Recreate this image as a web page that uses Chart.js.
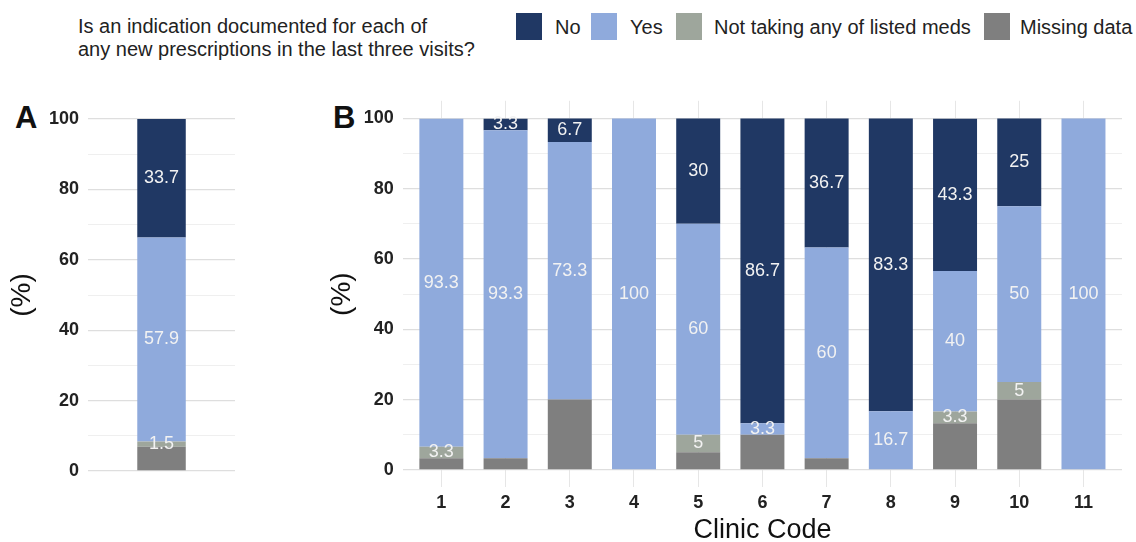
<!DOCTYPE html>
<html>
<head>
<meta charset="utf-8">
<script src="https://cdn.jsdelivr.net/npm/chart.js@4/dist/chart.umd.min.js"></script>
<style>
  body { margin: 0; background: #fff; font-family: "Liberation Sans", Arial, sans-serif; }
  #pagina { position: relative; width: 1136px; height: 542px; overflow: hidden; }
  .abs { position: absolute; }
  .titulo { left: 78px; top: 15px; font-size: 20px; line-height: 23px; color: #222; }
  .caixa { width: 26px; height: 27px; top: 13px; }
  .rotulo { top: 16px; font-size: 20px; line-height: 23px; color: #222; }
  .painel { font-size: 31px; font-weight: bold; color: #111; line-height: 1; }
</style>
</head>
<body>
<div id="pagina">
  <div class="abs titulo">Is an indication documented for each of<br>any new prescriptions in the last three visits?</div>

  <div class="abs caixa" style="left:516px;background:#203864"></div>
  <div class="abs rotulo" style="left:555px">No</div>
  <div class="abs caixa" style="left:591px;background:#8faadc"></div>
  <div class="abs rotulo" style="left:630px">Yes</div>
  <div class="abs caixa" style="left:676px;background:#9ea69c"></div>
  <div class="abs rotulo" style="left:714px">Not taking any of listed meds</div>
  <div class="abs caixa" style="left:984px;background:#7f7f7f"></div>
  <div class="abs rotulo" style="left:1020px">Missing data</div>

  <div class="abs painel" style="left:15px;top:102px">A</div>
  <div class="abs painel" style="left:333px;top:102px">B</div>

  <div class="abs" style="left:0;top:91px;width:245px;height:400px"><canvas id="grafico-a"></canvas></div>
  <div class="abs" style="left:300px;top:81px;width:836px;height:461px"><canvas id="grafico-b"></canvas></div>
</div>
<script>
// Panel A: all clinics pooled
const rotuloA = ['All'];
const naoA = [33.7];
const simA = [57.9];
const semMedA = [1.5];
const faltaA = [6.9];

// Panel B: by clinic
const clinicas = ['1', '2', '3', '4', '5', '6', '7', '8', '9', '10', '11'];
const naoB = [0, 3.3, 6.7, 0, 30, 86.7, 36.7, 83.3, 43.3, 25, 0];
const simB = [93.3, 93.3, 73.3, 100, 60, 3.3, 60, 16.7, 40, 50, 100];
const semMedB = [3.3, 0, 0, 0, 5, 0, 0, 0, 3.3, 5, 0];
const faltaB = [3.3, 3.3, 20, 0, 5, 10, 3.3, 0, 13.3, 20, 0];

const ticksY = [0, 10, 20, 30, 40, 50, 60, 70, 80, 90, 100];

const cores = {
    nao: '#203864',
    sim: '#8faadc',
    semMed: '#9ea69c',
    falta: '#7f7f7f'
};

const fonte = '"Liberation Sans", Arial, sans-serif';

// Writes the value in the middle of every segment (not for missing data)
const rotulosBarras = {
    id: 'rotulosBarras',
    afterDatasetsDraw(chart) {
        const ctx = chart.ctx;
        ctx.save();
        ctx.font = '18px ' + fonte;
        ctx.fillStyle = '#f2f2f2';
        ctx.textAlign = 'center';
        ctx.textBaseline = 'middle';
        chart.data.datasets.forEach((ds, i) => {
            if (!ds.mostrarValor) return;
            chart.getDatasetMeta(i).data.forEach((barra, j) => {
                const v = ds.valores[j];
                if (!v) return;
                ctx.fillText(String(v), barra.x, (barra.y + barra.base) / 2);
            });
        });
        ctx.restore();
    }
};

function corGrade(c) {
    return c.tick && c.tick.value % 20 === 0 ? '#dedede' : '#efefef';
}

function montarDatasets(xs, falta, semMed, sim, nao) {
    const pontos = arr => arr.map((v, i) => ({ x: xs[i], y: v }));
    return [
        { label: 'Missing data', data: pontos(falta), valores: falta, backgroundColor: cores.falta, mostrarValor: false },
        { label: 'Not taking any of listed meds', data: pontos(semMed), valores: semMed, backgroundColor: cores.semMed, mostrarValor: true },
        { label: 'Yes', data: pontos(sim), valores: sim, backgroundColor: cores.sim, mostrarValor: true },
        { label: 'No', data: pontos(nao), valores: nao, backgroundColor: cores.nao, mostrarValor: true }
    ];
}

function eixoY(min, max, padTitulo) {
    return {
        stacked: true,
        min: min,
        max: max,
        afterBuildTicks: s => { s.ticks = ticksY.map(v => ({ value: v })); },
        ticks: {
            callback: v => (v % 20 === 0 ? v : ''),
            color: '#222',
            font: { family: fonte, size: 18, weight: 'bold' },
            padding: 9
        },
        grid: { color: corGrade, lineWidth: c => (c.tick && c.tick.value % 20 === 0 ? 1.3 : 1), drawTicks: false },
        border: { display: false },
        title: {
            display: true,
            text: '(%)',
            color: '#111',
            font: { family: fonte, size: 28, lineHeight: 1 },
            padding: padTitulo
        }
    };
}

function criarGraficoA() {
    const ctx = document.getElementById('grafico-a').getContext('2d');
    new Chart(ctx, {
        type: 'bar',
        data: {
            labels: rotuloA,
            datasets: montarDatasets(rotuloA, faltaA, semMedA, simA, naoA)
        },
        options: {
            responsive: true,
            maintainAspectRatio: false,
            animation: false,
            layout: { padding: { left: 0, top: 28, right: 10, bottom: 20 } },
            plugins: { legend: { display: false }, tooltip: { enabled: false } },
            datasets: { bar: { categoryPercentage: 1, barPercentage: 0.33 } },
            scales: {
                x: { stacked: true, display: false },
                y: eixoY(0, 100, { top: 8, bottom: 4 })
            }
        },
        plugins: [rotulosBarras]
    });
}

function criarGraficoB() {
    const ctx = document.getElementById('grafico-b').getContext('2d');
    const xs = clinicas.map(c => Number(c));
    new Chart(ctx, {
        type: 'bar',
        data: {
            datasets: montarDatasets(xs, faltaB, semMedB, simB, naoB)
        },
        options: {
            responsive: true,
            maintainAspectRatio: false,
            animation: false,
            layout: { padding: { left: 10, top: 1, right: 14, bottom: 0 } },
            plugins: { legend: { display: false }, tooltip: { enabled: false } },
            datasets: { bar: { categoryPercentage: 1, barPercentage: 0.685 } },
            scales: {
                x: {
                    type: 'linear',
                    stacked: true,
                    offset: false,
                    min: 0.4,
                    max: 11.6,
                    afterBuildTicks: s => { s.ticks = xs.map(v => ({ value: v })); },
                    ticks: {
                        callback: v => clinicas[v - 1],
                        color: '#222',
                        font: { family: fonte, size: 18, weight: 'bold' },
                        padding: 5,
                        maxRotation: 0
                    },
                    grid: { color: '#e6e6e6', drawTicks: false, offset: false },
                    border: { display: false },
                    title: {
                        display: true,
                        text: 'Clinic Code',
                        color: '#111',
                        font: { family: fonte, size: 27, lineHeight: 0.85 },
                        padding: { top: 0, bottom: 0 }
                    }
                },
                y: eixoY(-5, 105, { top: 18.5, bottom: -1.7 })
            }
        },
        plugins: [rotulosBarras]
    });
}

criarGraficoA();
criarGraficoB();
</script>
</body>
</html>
